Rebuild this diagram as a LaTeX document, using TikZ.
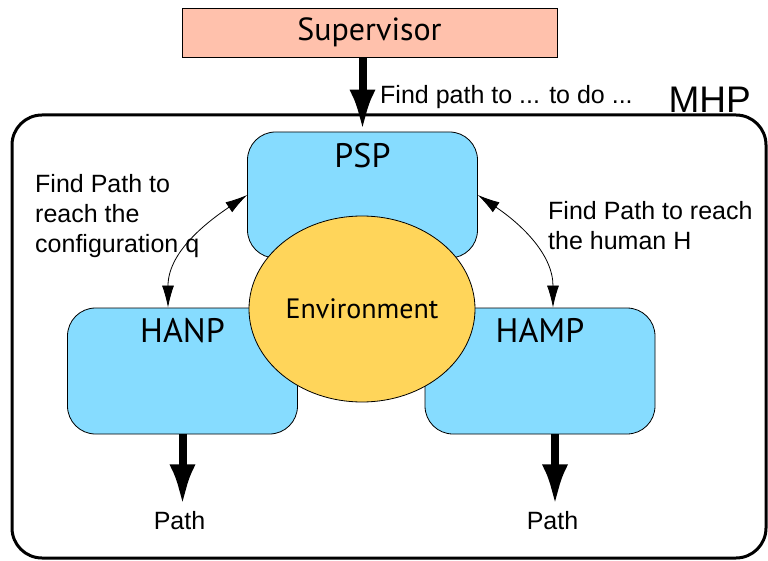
\documentclass[tikz,border=0pt]{standalone}
\usepackage{fontspec}
\setmainfont{Liberation Sans}
\newfontfamily\gillfont{PT Sans}
\usepackage{xcolor}
\usetikzlibrary{shapes.geometric, arrows.meta, positioning}

\definecolor{supfill}{RGB}{255,193,172}
\definecolor{boxblue}{RGB}{134,220,255}
\definecolor{envyellow}{RGB}{255,213,90}

\begin{document}
\begin{tikzpicture}[
        x=1pt, y=1pt,
        module/.style={rectangle, draw, line width=0.8pt, rounded corners=28pt, fill=boxblue, minimum width=230pt, minimum height=126pt, inner sep=0pt},
        title/.style={font=\gillfont\fontsize{34}{40}\selectfont, inner sep=0pt},
        note/.style={font=\fontsize{25}{30}\selectfont, align=left, inner sep=0pt},
        bigarrow/.style={line width=8pt, -{Latex[length=42pt, width=26pt]}},
        askarrow/.style={line width=0.8pt, {Latex[length=22pt, width=12pt]}-{Latex[length=22pt, width=12pt]}}
        ]
        \useasboundingbox (0,0) rectangle (768,-561);

        % Frame: MHP
        \node (frame) [draw, line width=3pt, rounded corners=30pt, minimum width=754pt, minimum height=443pt, inner sep=0pt] at (389,-336.5) {};
        \node (mhp) [font=\fontsize{37}{40}\selectfont, inner sep=0pt, anchor=base east] at (751,-113) {MHP};

        % Top: Supervisor
        \node (sup) [rectangle, draw, line width=0.8pt, fill=supfill, minimum width=375pt, minimum height=49pt, inner sep=0pt, font=\gillfont\fontsize{32}{36}\selectfont] at (369.5,-32.5) {Supervisor};

        % Planners
        \node (psp) [module, label={[title, anchor=north, yshift=-11pt]north:PSP}] at (362.5,-195) {};
        \node (hanp) [module, label={[title, anchor=north, yshift=-11pt]north:HANP}] at (182.5,-371) {};
        \node (hamp) [module, label={[title, anchor=north, yshift=-11pt]north:HAMP}] at (540,-371) {};

        % Shared environment
        \node (env) [ellipse, draw, line width=0.8pt, fill=envyellow, minimum width=226pt, minimum height=186pt, inner sep=0pt, font=\gillfont\fontsize{28}{32}\selectfont] at (362,-309) {Environment};

        % Request from the supervisor
        \draw [bigarrow] (sup.south -| psp.north) -- (psp.north);
        \node (ask) [note, anchor=west] at (380,-97) {Find path to ... to do ...};

        % Requests between planners
        \draw [askarrow] ([xshift=-14.5pt]hanp.north) to [out=90, in=214] (psp.west);
        \draw [askarrow] ([xshift=13pt]hamp.north) to [out=90, in=-34] (psp.east);
        \node (noteq) [note, anchor=north west] at (35,-174) {Find Path to\\reach the\\configuration q};
        \node (noteh) [note, anchor=north west] at (548,-201) {Find Path to reach\\the human H};

        % Outputs
        \node (pathL) [note, below=77pt of hanp, xshift=-3pt] {Path};
        \node (pathR) [note, below=77pt of hamp, xshift=12.5pt] {Path};
        \draw [bigarrow] (hanp.south) -- ([yshift=5pt]hanp.south |- pathL.north);
        \draw [bigarrow] ([xshift=15pt]hamp.south) -- ([xshift=15pt, yshift=5pt]hamp.south |- pathR.north);

    \end{tikzpicture}
\end{document}
